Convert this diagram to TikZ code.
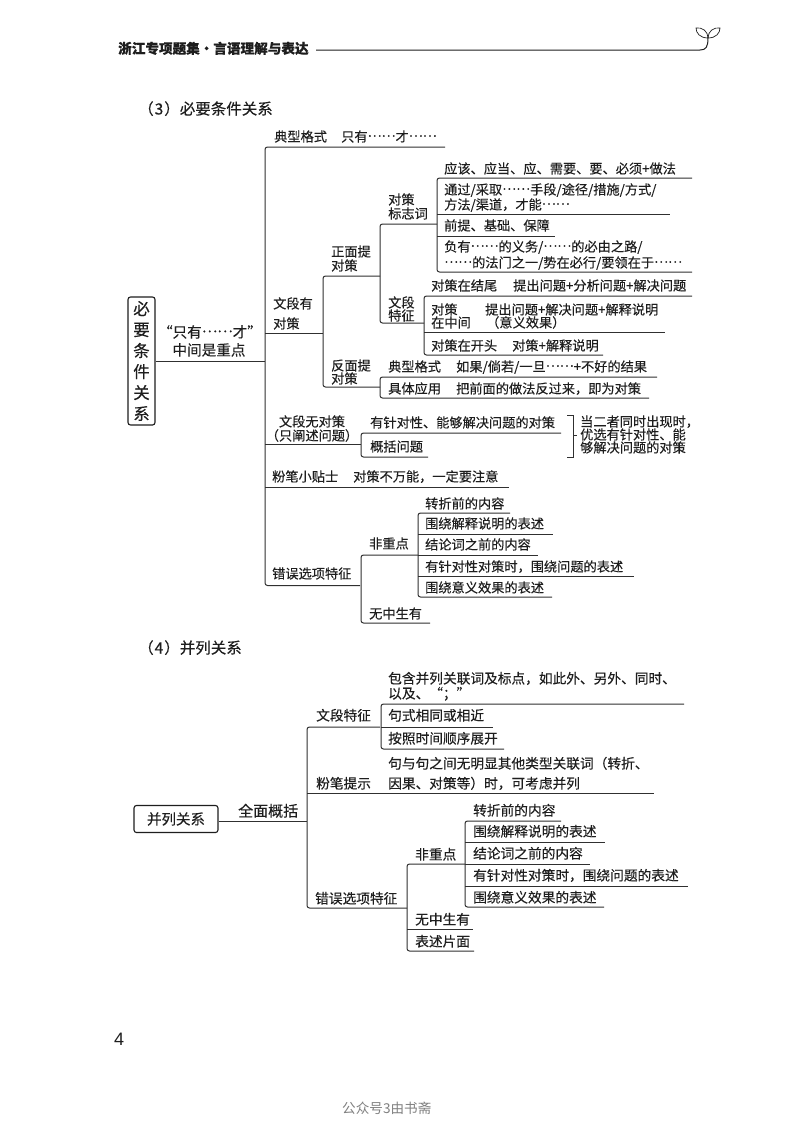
\documentclass[tikz,border=0pt]{standalone}
\usepackage{fontspec}
\setmainfont{Noto Sans CJK SC}[FakeBold=0.22]
\newfontfamily\thinface{Noto Sans CJK SC}
\setsansfont{Liberation Sans}
\definecolor{ink}{HTML}{1E1E1E}
\newcommand\elli{\raisebox{.36em}{……}}
\tikzset{
  txt/.style={anchor=west,inner sep=0pt,text=ink,font=\fontsize{13.2}{13.2}\selectfont,text height=10pt,text depth=3pt},
  txtb/.style={txt,font=\fontsize{13.7}{13.7}\selectfont},
  ctr/.style={txt,anchor=center,font=\fontsize{14.6}{14.6}\selectfont},
  ctrs/.style={txt,anchor=center},
  title/.style={txt,font=\fontsize{15.5}{15.5}\selectfont},
  head/.style={txt,font=\bfseries\fontsize{13.6}{13.6}\selectfont},
  conn/.style={draw=ink!92,line width=1pt},
  brk/.style={conn,rounded corners=2.5pt},
  rbox/.style={draw=ink,line width=1.1pt,rounded corners=2.5pt,inner sep=0pt,text=ink}
}
% text node: name, x, y, text
\newcommand\Tx[5][txt]{\node[#1] (#2) at (#3,#4) {#5};}
% underline: name, x1, x2, y
\newcommand\Ln[4]{\coordinate (#1s) at (#2,#4);\coordinate (#1e) at (#3,#4);\draw[conn] (#1s) -- (#1e);}
% bracket: name, x, ytop, xtopend, ybot, xbotend
\newcommand\Br[6]{\coordinate (#1a) at (#4,#3);\coordinate (#1b) at (#2,#3);\coordinate (#1c) at (#2,#5);\coordinate (#1d) at (#6,#5);\draw[brk] (#1a) -- (#1b) -- (#1c) -- (#1d);}
\begin{document}
\begin{tikzpicture}[x=1pt,y=-1pt]
\useasboundingbox (0,0) rectangle (800,1128);
\fill[white] (0,0) rectangle (800,1128);
% page head
\Tx[head]{hd}{118}{50}{浙江专项题集·言语理解与表达}
\coordinate (hl) at (316,50);
\coordinate (hs) at (708,38);
\draw[draw=ink,line width=1pt] (hl) -- (700,50) .. controls (706,50) and (708,47) .. (hs);
\draw[draw=ink,line width=.7pt] (hs) .. controls (700,38) and (696,33) .. (696,28) .. controls (702,27) and (708,31) .. (hs);
\draw[draw=ink,line width=.7pt] (hs) .. controls (716,38) and (720,33) .. (720,28) .. controls (714,27) and (708,31) .. (hs);
% ---- section 3
\Tx[title]{s3}{138}{111}{（\kern1pt 3\kern1pt）必要条件关系}
\node[rbox,minimum width=27pt,minimum height=128pt,align=center,font=\fontsize{16.5}{21}\selectfont] (box1) at (141.5,361) {必\\要\\条\\件\\关\\系};
\coordinate (t1top) at (445,147);
\coordinate (t1tl) at (265,147);
\coordinate (t1bl) at (265,585.5);
\coordinate (t1bot) at (360,585.5);
\draw[brk] (t1top) -- (t1tl) -- (t1bl) -- (t1bot);
\coordinate (t1m) at (265,361);
\draw[conn] (box1.east |- t1m) -- (t1m);
\Tx[ctr]{q1}{210}{334}{“只有\elli 才”}
\Tx[ctr]{q2}{209}{352}{中间是重点}
\Tx{a1}{274}{138}{典型格式}
\Tx{a2}{341}{138}{只有\elli 才\elli}
% has countermeasure
\Tx{b1}{273}{305}{文段有}
\Tx{b2}{273}{325}{对策}
\Ln{bl}{265}{323}{333}
\Br{bb}{323}{276}{380}{387}{380}
\Tx{c1}{331}{253}{正面提}
\Tx{c2}{331}{267}{对策}
\Br{cc}{380}{224}{437}{323}{424}
\Tx{d1}{388}{201}{对策}
\Tx{d2}{388}{215}{标志词}
\Br{dd}{437}{178}{692}{272}{692}
\Tx{e1}{444}{170}{应该、应当、应、需要、要、必须+做法}
\Tx{e2}{444}{191}{通过/采取\elli 手段/途径/措施/方式/}
\Tx{e3}{444}{206}{方法/渠道，才能\elli}
\Ln{el1}{437}{670}{214}
\Tx{e4}{444}{227}{前提、基础、保障}
\Ln{el2}{437}{555}{236}
\Tx{e5}{444}{248}{负有\elli 的义务/\elli 的必由之路/}
\Tx{e6}{444}{264}{\elli 的法门之一/势在必行/要领在于\elli}
\Tx{f1}{388}{304}{文段}
\Tx{f2}{388}{317}{特征}
\Br{ff}{424}{296}{692}{355}{603}
\Tx{g1}{431}{287}{对策在结尾}
\Tx{g2}{513}{287}{提出问题+分析问题+解决问题}
\Tx{g3}{431}{311}{对策}
\Tx{g4}{485}{311}{提出问题+解决问题+解释说明}
\Tx{g5}{431}{324}{在中间}
\Tx{g6}{486}{324}{（意义效果）}
\Ln{gl}{424}{665}{332}
\Tx{g7}{431}{347}{对策在开头}
\Tx{g8}{512}{347}{对策+解释说明}
\Tx{h1}{331}{367}{反面提}
\Tx{h2}{331}{380}{对策}
\Br{hh}{380}{377}{657}{398}{649}
\Tx{i1}{388}{368}{典型格式}
\Tx{i2}{456}{368}{如果/倘若/一旦\elli +不好的结果}
\Tx{i3}{388}{390}{具体应用}
\Tx{i4}{456}{390}{把前面的做法反过来，即为对策}
% no countermeasure
\Tx[ctrs]{j1}{312}{423}{文段无对策}
\Tx[ctrs]{j2}{312}{437}{（只阐述问题）}
\Ln{jl}{265}{361}{444}
\Br{jj}{361}{433}{561}{457}{428}
\Tx{j3}{370}{424}{有针对性、能够解决问题的对策}
\Tx{j4}{370}{448}{概括问题}
\coordinate (ka) at (567,415);\coordinate (kb) at (573,415);\coordinate (kc) at (573,457);\coordinate (kd) at (567,457);
\draw[conn] (ka) -- (kb) -- (kc) -- (kd);
\coordinate (km) at (573,435);\coordinate (kn) at (577,435);
\draw[conn] (km) -- (kn);
\Tx{k1}{580}{423}{当二者同时出现时，}
\Tx{k2}{580}{436}{优选有针对性、能}
\Tx{k3}{580}{449}{够解决问题的对策}
\Tx{l1}{272}{478}{粉笔小贴士}
\Tx{l2}{353}{478}{对策不万能，一定要注意}
\Ln{ll}{265}{509}{487}
% wrong options
\Tx{m1}{272}{575}{错误选项特征}
\Br{mm}{361}{555}{418}{623}{430}
\Tx{m2}{369}{545}{非重点}
\Tx{m3}{369}{615}{无中生有}
\Br{nn}{418}{513}{510}{597}{552}
\Tx{n1}{425}{505}{转折前的内容}
\Tx{n2}{425}{525}{围绕解释说明的表述}
\Ln{nl1}{418}{553}{534}
\Tx{n3}{425}{546}{结论词之前的内容}
\Ln{nl2}{418}{538}{555}
\Tx{n4}{425}{568}{有针对性对策时，围绕问题的表述}
\Ln{nl3}{418}{634}{576}
\Tx{n5}{425}{589}{围绕意义效果的表述}
% ---- section 4
\Tx[title]{s4}{138}{650}{（\kern1pt 4\kern1pt）并列关系}
\node[rbox,minimum width=84pt,minimum height=27pt,font=\fontsize{14.5}{14.5}\selectfont] (box2) at (176,819) {并列关系};
\coordinate (t2m) at (307,821);
\draw[conn] (box2.east |- t2m) -- (t2m);
\Tx[txt,font=\fontsize{15}{15}\selectfont]{p0}{238}{813}{全面概括}
\coordinate (t2a) at (380,727);\coordinate (t2b) at (307,727);\coordinate (t2c) at (307,908);\coordinate (t2d) at (407,908);
\draw[brk] (t2a) -- (t2b) -- (t2c) -- (t2d);
\Tx[txtb]{p1}{316}{717}{文段特征}
\Br{qq}{381}{704}{684}{749}{504}
\Ln{ql}{381}{493}{727}
\Tx[txtb]{q3}{388}{680}{包含并列关联词及标点，如此外、另外、同时、}
\Tx[txtb]{q4}{388}{695}{以及、“；”}
\Tx[txtb]{q5}{388}{717}{句式相同或相近}
\Tx[txtb]{q6}{388}{740}{按照时间顺序展开}
\Tx[txtb]{r1}{316}{785}{粉笔提示}
\Tx[txtb]{r2}{388}{765}{句与句之间无明显其他类型关联词（转折、}
\Tx[txtb]{r3}{388}{785}{因果、对策等）时，可考虑并列}
\Ln{rl}{307}{654}{793}
\Tx[txtb]{u1}{315}{900}{错误选项特征}
\Br{uu}{407}{864}{465}{951}{474}
\Ln{ul}{407}{473}{929}
\Tx[txtb]{u2}{415}{856}{非重点}
\Tx[txtb]{u3}{415}{921}{无中生有}
\Tx[txtb]{u4}{415}{943}{表述片面}
\Br{vv}{465}{821}{561}{907}{604}
\Tx[txtb]{v1}{473}{812}{转折前的内容}
\Tx[txtb]{v2}{473}{833}{围绕解释说明的表述}
\Ln{vl1}{465}{605}{842}
\Tx[txtb]{v3}{473}{855}{结论词之前的内容}
\Ln{vl2}{465}{590}{864}
\Tx[txtb]{v4}{473}{877}{有针对性对策时，围绕问题的表述}
\Ln{vl3}{465}{688}{886}
\Tx[txtb]{v5}{473}{899}{围绕意义效果的表述}
% page number, mark
\node[txt,font=\sffamily\fontsize{18}{18}\selectfont] (pg) at (114,1042) {4};
\node[txt,text=black!50,font=\thinface\fontsize{13.6}{13.6}\selectfont] (wm) at (342,1110) {公众号3由书斋};
\end{tikzpicture}
\end{document}
